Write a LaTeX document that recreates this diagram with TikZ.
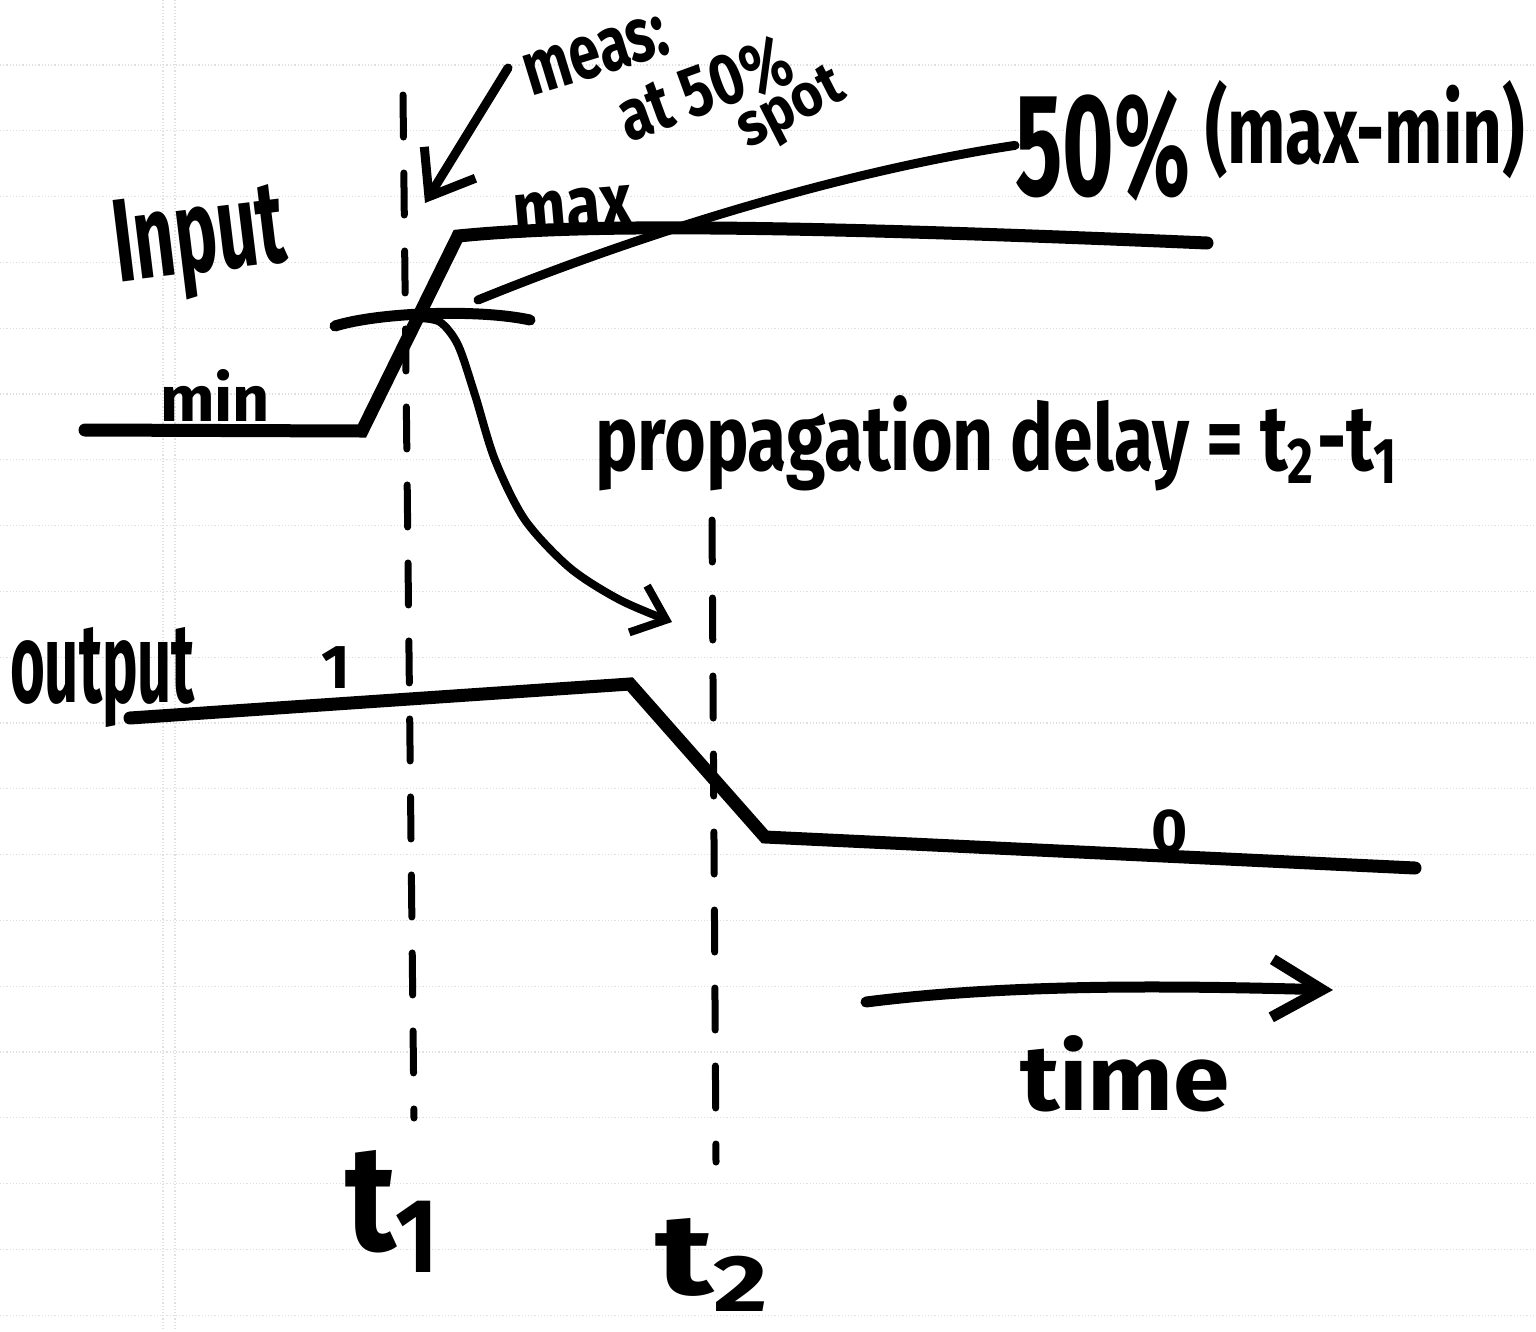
\documentclass[tikz,border=0pt]{standalone}
\usepackage{fontspec}
\setmainfont{Fira Sans}
\usepackage{graphicx}
\usetikzlibrary{arrows.meta}
% text box stretched to a given width and height (in pt)
\newcommand{\fitbox}[3]{\resizebox{#1pt}{#2pt}{\bfseries #3}}

\begin{document}
\begin{tikzpicture}[x=1pt,y=-1pt,
  wave/.style={line width=13pt,line cap=round,line join=miter},
  guide/.style={line width=7pt,line cap=round,dash pattern=on 42pt off 36pt},
  pen/.style={line width=9pt,line cap=round,line join=round},
  ruling/.style={black!12,line width=1.2pt,dotted},
  lbl/.style={inner sep=0pt,outer sep=0pt,anchor=base west}]
\useasboundingbox[fill=white] (0,0) rectangle (1536,1331);

% notebook paper
\foreach \k in {0,...,19}
  \draw[ruling] (0,{65+65.8*\k}) -- (1536,{65+65.8*\k});
\draw[ruling] (163,0) -- (163,1331);
\draw[ruling] (175,0) -- (175,1331);

% key points
\coordinate (minL)  at (85,430);
\coordinate (rampB) at (362,431);
\coordinate (rampT) at (458,236);
\coordinate (maxR)  at (1207,243);
\coordinate (half)  at (418,318);
\coordinate (tickL) at (335,326);
\coordinate (tickR) at (530,320);
\coordinate (ptrA)  at (478,300);
\coordinate (measA) at (508,68);
\coordinate (measTip) at (425,203);
\coordinate (bellTip) at (672,622);
\coordinate (tOneTop) at (403,95);
\coordinate (tOneBot) at (414,1118);
\coordinate (tTwoTop) at (712,520);
\coordinate (tTwoBot) at (716,1162);
\coordinate (outL)  at (130,718);
\coordinate (outH)  at (630,684);
\coordinate (outF)  at (765,837);
\coordinate (outR)  at (1415,868);
\coordinate (timeA) at (866,1002);
\coordinate (timeTip) at (1333,990);

% labels
\node[lbl,rotate=7] (inLbl) at (118,282) {\fitbox{172}{82}{Input}};
\node[lbl] (minLbl) at (160,421) {\fitbox{110}{52}{min}};
\node[lbl,rotate=5] (maxLbl) at (515,238) {\fitbox{120}{44}{max}};
\node[lbl,rotate=17] (measLbl) at (531,96) {\fitbox{148}{42}{meas:}};
\node[lbl,rotate=20] (atLbl) at (628,142) {\fitbox{180}{52}{at 50\%}};
\node[lbl,rotate=27] (spotLbl) at (748,148) {\fitbox{112}{40}{spot}};
\node[lbl] (halfLbl) at (1015,195) {\fitbox{175}{105}{50\%}};
\node[lbl] (rangeLbl) at (1205,163) {\fitbox{320}{83}{(max-min)}};
\node[lbl] (delayLbl) at (595,470) {\fitbox{805}{75}{propagation delay = t\textsubscript{2}-t\textsubscript{1}}};
\node[lbl] (outLbl) at (10,702) {\fitbox{185}{75}{output}};
\node[inner sep=0pt,font=\bfseries\fontsize{62}{62}\selectfont] (oneLbl) at (336,668) {1};
\node[inner sep=0pt,font=\bfseries\fontsize{62}{62}\selectfont] (zeroLbl) at (1170,832) {0};
\node[lbl] (timeLbl) at (1020,1110) {\fitbox{210}{75}{time}};
\node[lbl] (tOneLbl) at (345,1250) {\fitbox{100}{100}{t\textsubscript{1}}};
\node[lbl] (tTwoLbl) at (655,1294) {\fitbox{120}{76}{t\textsubscript{2}}};

% measurement guides at t1 and t2
\draw[guide] (tOneTop) -- (tOneBot);
\draw[guide] (tTwoTop) -- (tTwoBot);

% input waveform
\draw[wave] (minL) -- (rampB) -- (rampT) .. controls (560,226) and (720,222) .. (maxR);
% 50 % level mark
\draw[wave,line width=11pt] (tickL) .. controls (380,312) and (480,309) .. (tickR);
% pointer from the 50 % label to the mark
\draw[pen] (ptrA) .. controls (650,230) and (850,170) .. (halfLbl.west);
% note arrow
\draw[pen,-{Straight Barb[length=40pt,width=60pt]}] (measA) -- (measTip);
% delay arrow from input crossing to output crossing
\draw[pen,line width=8pt,-{Straight Barb[length=30pt,width=50pt]}]
  plot[smooth] coordinates {(half) (440,322) (458,345) (475,395) (495,460) (525,520) (570,568) (620,600) (bellTip)};

% output waveform
\draw[wave] (outL) -- (outH) -- (outF) -- (outR);

% time axis
\draw[pen,line width=11pt,-{Straight Barb[length=50pt,width=58pt]}]
  (timeA) .. controls (1000,985) and (1150,985) .. (timeTip);
\end{tikzpicture}
\end{document}
